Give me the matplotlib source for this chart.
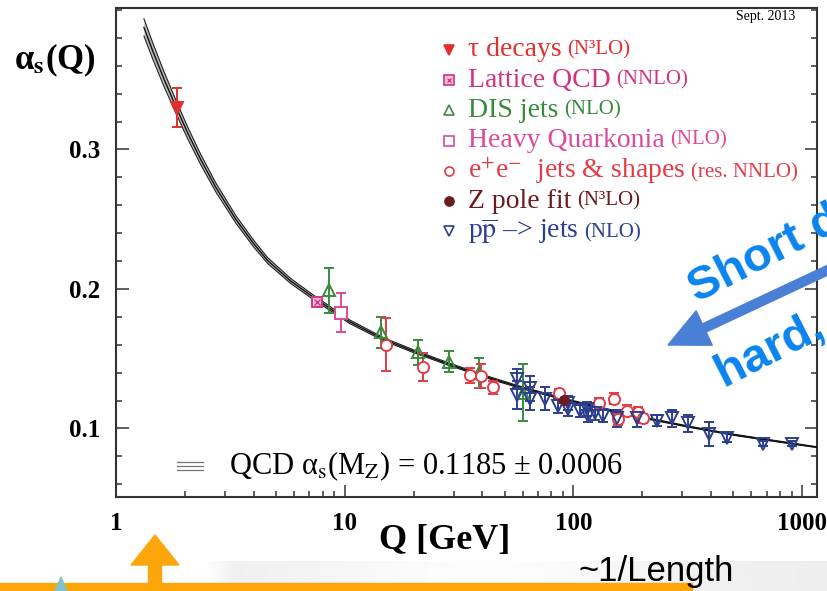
import numpy as np
import matplotlib
matplotlib.use('Agg')
import matplotlib.pyplot as plt
from matplotlib.patches import FancyArrow, Rectangle, Polygon
from matplotlib.transforms import IdentityTransform
from matplotlib.ticker import MultipleLocator, NullFormatter

plt.rcParams['font.family'] = ['Liberation Serif', 'DejaVu Serif']
plt.rcParams['mathtext.fontset'] = 'stix'

# QCD band
curve_q = [1.325, 1.45, 1.62, 1.83, 2.06, 2.35, 2.73, 3.34, 4.0, 4.61, 5.8, 7.32,
           10.5, 14.8, 20.0, 29.0, 43.4, 56.9, 91.2, 140, 210, 320, 485, 750, 1163]
curve_a = [0.3875, 0.3703, 0.3506, 0.3305, 0.3117, 0.2926, 0.2729, 0.2500,
           0.2325, 0.2203, 0.2058, 0.1939, 0.1766, 0.1640, 0.1554, 0.1457,
           0.1361, 0.1302, 0.1210, 0.1136, 0.1073, 0.1013, 0.0959, 0.0912, 0.0866]
curve_da = [0.0062, 0.0058, 0.0053, 0.0047, 0.0042, 0.0037, 0.0032, 0.0027,
            0.0024, 0.0021, 0.0018, 0.0016, 0.0013, 0.0011, 0.0010, 0.0009,
            0.0008, 0.0007, 0.0006, 0.0006, 0.0005, 0.0004, 0.0004, 0.0004, 0.0003]

# measurements
tau_q = [1.85]
tau_a = [0.330]
tau_e = [0.014]

lat_q = [7.6]
lat_a = [0.191]
lat_e = [0.002]

dis_q = [8.5, 14.4, 21.0, 28.7, 38.5, 60.5]
dis_a = [0.199, 0.169, 0.1545, 0.148, 0.140, 0.1258]
dis_e = [0.016, 0.011, 0.009, 0.0075, 0.0107, 0.0205]

hq_q = [9.6]
hq_a = [0.183]
hq_e = [0.014]

ee_q = [15.1, 22.1, 35.2, 39.6, 44.7, 86.9, 129, 150, 157, 172, 192, 202]
ee_a = [0.160, 0.1444, 0.138, 0.1373, 0.1294, 0.1251, 0.118, 0.1215, 0.1065,
        0.1129, 0.1115, 0.1072]
ee_e = [0.019, 0.010, 0.0055, 0.0086, 0.0047, 0.003, 0.004, 0.004, 0.004,
        0.004, 0.004, 0.003]

z_q = [91.2]
z_a = [0.1205]
z_e = [0.002]

pp_q = [56.9, 56.9, 64.9, 64.9, 75.5, 86, 95, 95, 107, 115, 116, 125, 135,
        156, 190, 233, 271, 318, 393, 470, 676, 904]
pp_a = [0.1358, 0.1237, 0.1287, 0.1215, 0.1215, 0.116, 0.1186, 0.1143, 0.1129,
        0.1143, 0.1093, 0.1108, 0.1093, 0.1072, 0.1072, 0.1057, 0.1072, 0.1036,
        0.0964, 0.0935, 0.0892, 0.0892]
pp_e = [0.007, 0.010, 0.009, 0.008, 0.008, 0.005, 0.005, 0.005, 0.005, 0.005,
        0.005, 0.005, 0.005, 0.006, 0.006, 0.004, 0.006, 0.006, 0.0086, 0.003,
        0.002, 0.002]

xtick_vals = [1, 10, 100, 1000]
xtick_labels = ['1', '10', '100', '1000']
ytick_vals = [0.1, 0.2, 0.3]
ytick_labels = ['0.1', '0.2', '0.3']

c_tau = '#e2302e'
c_lat = '#d2357f'
c_dis = '#3a8a3c'
c_hq = '#dd4a9a'
c_ee = '#e23c48'
c_z = '#6a1c22'
c_pp = '#2c3f8e'
serif = ['Liberation Serif', 'DejaVu Serif']

fig = plt.figure(figsize=(8.27, 5.91), dpi=100)
fig.patch.set_facecolor('white')

# slide background strip at the bottom
grad = np.linspace(0, 1, 300)
shade = 0.93 + 0.06 * np.exp(-((grad - 0.45) / 0.3) ** 2)
shade[:15] = np.linspace(1.0, shade[15], 15)
bg = fig.add_axes([205 / 827, 0, 622 / 827, 30 / 591], zorder=-5)
bg.imshow(np.tile(shade, (2, 1)), cmap='gray', vmin=0, vmax=1, aspect='auto',
          extent=[0, 1, 0, 1])
bg.set_axis_off()

ax = fig.add_axes([116 / 827, 94 / 591, 701 / 827, 489 / 591])
ax.set_xscale('log')
ax.set_xlim(1, 1163)
ax.set_ylim(0.0509, 0.4014)

cq = np.array(curve_q)
ca = np.array(curve_a)
cd = np.array(curve_da)
ax.fill_between(cq, ca - cd, ca + cd, color='#b8b8b8', lw=0, zorder=2)
ax.plot(cq, ca + cd, color='#222222', lw=0.8, zorder=3)
ax.plot(cq, ca - cd, color='#222222', lw=0.8, zorder=3)
ax.plot(cq, ca, color='#111111', lw=1.0, zorder=3)

eb = dict(capsize=3.8, elinewidth=1.4, capthick=1.4, ms=8, mew=1.4, zorder=5,
          linestyle='none')
ax.errorbar(tau_q, tau_a, yerr=tau_e, marker='v', color=c_tau, mfc=c_tau, **eb)
ax.errorbar(dis_q, dis_a, yerr=dis_e, marker='^', color=c_dis, mfc='none', **eb)
ax.errorbar(hq_q, hq_a, yerr=hq_e, marker='s', color=c_hq, mfc='white', **eb)
ax.errorbar(lat_q, lat_a, yerr=lat_e, marker='s', color=c_lat, mfc='#f3c0dc',
            **dict(eb, ms=7))
ax.plot(lat_q, lat_a, marker='x', color=c_lat, ms=3.8, mew=1, zorder=6)
ax.errorbar(ee_q, ee_a, yerr=ee_e, marker='o', color=c_ee, mfc='white', **eb)
ax.errorbar(pp_q, pp_a, yerr=pp_e, marker='v', color=c_pp, mfc='none', **eb)
ax.errorbar(z_q, z_a, yerr=z_e, marker='o', color=c_z, mfc=c_z,
            **dict(eb, ms=6.5))

ax.set_xticks(xtick_vals)
ax.set_xticklabels(xtick_labels)
ax.xaxis.set_minor_formatter(NullFormatter())
ax.set_yticks(ytick_vals)
ax.set_yticklabels(ytick_labels)
ax.yaxis.set_minor_locator(MultipleLocator(0.02))
ax.tick_params(which='both', direction='in', top=False, right=True, width=1.1,
               color='#333333')
ax.tick_params(which='major', length=9)
ax.tick_params(which='minor', length=4.5)
ax.tick_params(axis='x', which='major', pad=11, labelsize=18)
ax.tick_params(axis='y', which='major', pad=11, labelsize=18)
for lab in ax.get_xticklabels() + ax.get_yticklabels():
    lab.set_fontweight('bold')
for sp in ax.spines.values():
    sp.set_linewidth(1.5)
    sp.set_color('#333333')

# legend
legend = [
    ('v', c_tau, c_tau, 'τ decays', '(N³LO)'),
    ('s', c_lat, '#f3c0dc', 'Lattice QCD', '(NNLO)'),
    ('^', c_dis, 'none', 'DIS jets', '(NLO)'),
    ('s', c_hq, 'none', 'Heavy Quarkonia', '(NLO)'),
    ('o', c_ee, 'none', r'e$^{+}$e$^{-}$  jets & shapes', '(res. NNLO)'),
    ('o', c_z, c_z, 'Z pole fit', '(N³LO)'),
    ('v', c_pp, 'none', r'p$\overline{\mathrm{p}}$ –> jets', '(NLO)'),
]
for i, (m, col, fc, main, paren) in enumerate(legend):
    yy = 1 - (50 + 30.2 * i - 8) / 489
    ax.plot([0.475], [yy], marker=m, color=col, mfc=fc, ms=6.5, mew=1.2,
            transform=ax.transAxes, clip_on=False)
    if i == 1:
        ax.plot([0.475], [yy], marker='x', color=col, ms=3, mew=0.9,
                transform=ax.transAxes)
    t = ax.text(0.502, yy, main, color=col, fontsize=20, va='center',
                family=serif, transform=ax.transAxes)
    ax.annotate(paren, xy=(1, 0), xycoords=t, xytext=(4, 2.5), family=serif,
                textcoords='offset points', fontsize=15, color=col, va='bottom')

ax.text(0.969, 0.982, 'Sept. 2013', transform=ax.transAxes, ha='right',
        va='center', fontsize=10)

# QCD band legend
for dy in (-0.008, 0, 0.008):
    ax.plot([0.087, 0.124], [0.0634 + dy] * 2, color='#777777', lw=0.9,
            transform=ax.transAxes)
ax.text(0.161, 0.0634, r'QCD α$_{\mathrm{s}}$(M$_{\mathrm{Z}}$) = 0.1185 ± 0.0006',
        transform=ax.transAxes, fontsize=22, va='center')

fig.text(14 / 827, 1 - 60 / 591, r'α$_{\mathbf{s}}$(Q)', fontsize=25,
         fontweight='bold', va='center', ha='left')
fig.text(445 / 827, 1 - 540 / 591, 'Q [GeV]', fontsize=26, fontweight='bold',
         ha='center', va='center')

# slide overlays
blue_txt = '#0a84ee'
fig.text(697 / 827, 1 - 303 / 591, 'Short distances', color=blue_txt,
         fontsize=34, fontweight='bold', family='Liberation Sans', rotation=27,
         rotation_mode='anchor', ha='left', va='baseline')
fig.text(724 / 827, 1 - 388 / 591, 'hard, perturbative', color=blue_txt,
         fontsize=34, fontweight='bold', family='Liberation Sans', rotation=27,
         rotation_mode='anchor', ha='left', va='baseline')

ident = IdentityTransform()
fig.patches.append(FancyArrow(845, 329, -177, -83, width=9, head_width=38,
                              head_length=40, length_includes_head=True,
                              color='#4a7fd6', transform=ident, figure=fig))

orange = '#fca60c'
fig.patches.append(Rectangle((0, 0), 692, 8, color=orange, transform=ident,
                             figure=fig))
fig.patches.append(FancyArrow(155, -5, 0, 61, width=13, head_width=48,
                              head_length=30, length_includes_head=True,
                              color=orange, transform=ident, figure=fig))
fig.patches.append(Polygon([(55, 0), (61, 14), (67, 0)], closed=True,
                           color='#7fc4c8', transform=ident, figure=fig))
fig.text(578 / 827, 1 - 572 / 591, '~1/Length', family='Liberation Sans',
         fontsize=25, ha='left', va='center')

plt.savefig('out.png', dpi=100)
